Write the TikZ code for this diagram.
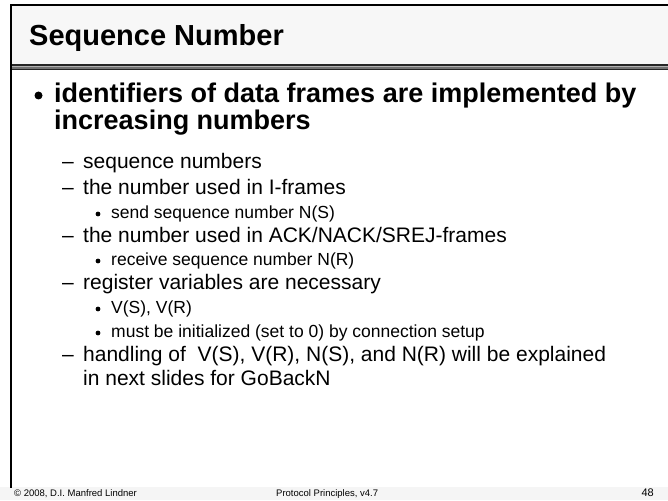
\documentclass[tikz,border=0pt]{standalone}
\usepackage{fontspec}
\setmainfont{Liberation Sans}
\begin{document}
\begin{tikzpicture}[x=1pt,y=-1pt,
  lvlone/.style={anchor=base west,inner sep=0pt,font=\fontsize{27}{31}\selectfont\bfseries},
  lvltwo/.style={anchor=base west,inner sep=0pt,font=\fontsize{21}{25}\selectfont},
  lvlthree/.style={anchor=base west,inner sep=0pt,font=\fontsize{17.5}{20}\selectfont},
  foot/.style={anchor=base west,inner sep=0pt,font=\fontsize{9.5}{11}\selectfont},
  bigdot/.style={circle,fill=black,inner sep=0pt,minimum size=8pt},
  smalldot/.style={circle,fill=black,inner sep=0pt,minimum size=4.8pt},
]
\useasboundingbox (0,0) rectangle (668,500);
\fill[white] (0,0) rectangle (668,500);
% footer band
\fill[black!4] (0,487) rectangle (668,500);
% title band with bevelled bottom edge
\fill[black!3] (11,5) rectangle (668,65);
\fill[black] (10,4.5) rectangle (668,6.5);
\fill[black!85] (11,64.5) rectangle (668,66);
\fill[black!30] (11,66) rectangle (668,67.5);
\fill[black!55] (11,67.5) rectangle (668,69);
\fill[black!85] (11,69) rectangle (668,70.5);
% left frame line
\fill[black] (10,4.5) rectangle (12,488);

% title
\node[anchor=base west,inner sep=0pt,font=\fontsize{29}{33}\selectfont\bfseries] (title) at (29,46) {Sequence Number};

% first level
\node[bigdot] (d1) at (38.5,95.5) {};
\node[lvlone] (l1a) at (54,102.5) {identifiers of data frames are implemented by};
\node[lvlone] (l1b) at (54,129.5) {increasing numbers};

% second and third level
\node[lvltwo] (m1) at (62,168.5) {–};
\node[lvltwo] (t1) at (83,168.5) {sequence numbers};
\node[lvltwo] (m2) at (62,194.5) {–};
\node[lvltwo] (t2) at (83,194.5) {the number used in I-frames};
\node[smalldot] (s1) at (98,214) {};
\node[lvlthree] (u1) at (111,218.5) {send sequence number N(S)};
\node[lvltwo] (m3) at (62,242.5) {–};
\node[lvltwo] (t3) at (83,242.5) {the number used in ACK/NACK/SREJ-frames};
\node[smalldot] (s2) at (98,261) {};
\node[lvlthree] (u2) at (111,265.5) {receive sequence number N(R)};
\node[lvltwo] (m4) at (62,289.5) {–};
\node[lvltwo] (t4) at (83,289.5) {register variables are necessary};
\node[smalldot] (s3) at (98,309) {};
\node[lvlthree] (u3) at (111,313.5) {V(S), V(R)};
\node[smalldot] (s4) at (98,333) {};
\node[lvlthree] (u4) at (111,337.5) {must be initialized (set to 0) by connection setup};
\node[lvltwo] (m5) at (62,361.5) {–};
\node[lvltwo] (t5) at (83,361.5) {handling of\ \ V(S), V(R), N(S), and N(R) will be explained};
\node[lvltwo] (t6) at (83,385.5) {in next slides for GoBackN};

% footer
\node[foot] (f1) at (14,496.5) {© 2008, D.I. Manfred Lindner};
\node[foot] (f2) at (276,496.5) {Protocol Principles, v4.7};
\node[foot,anchor=base east,font=\fontsize{11}{12}\selectfont] (f3) at (654,496.5) {48};
\end{tikzpicture}
\end{document}
